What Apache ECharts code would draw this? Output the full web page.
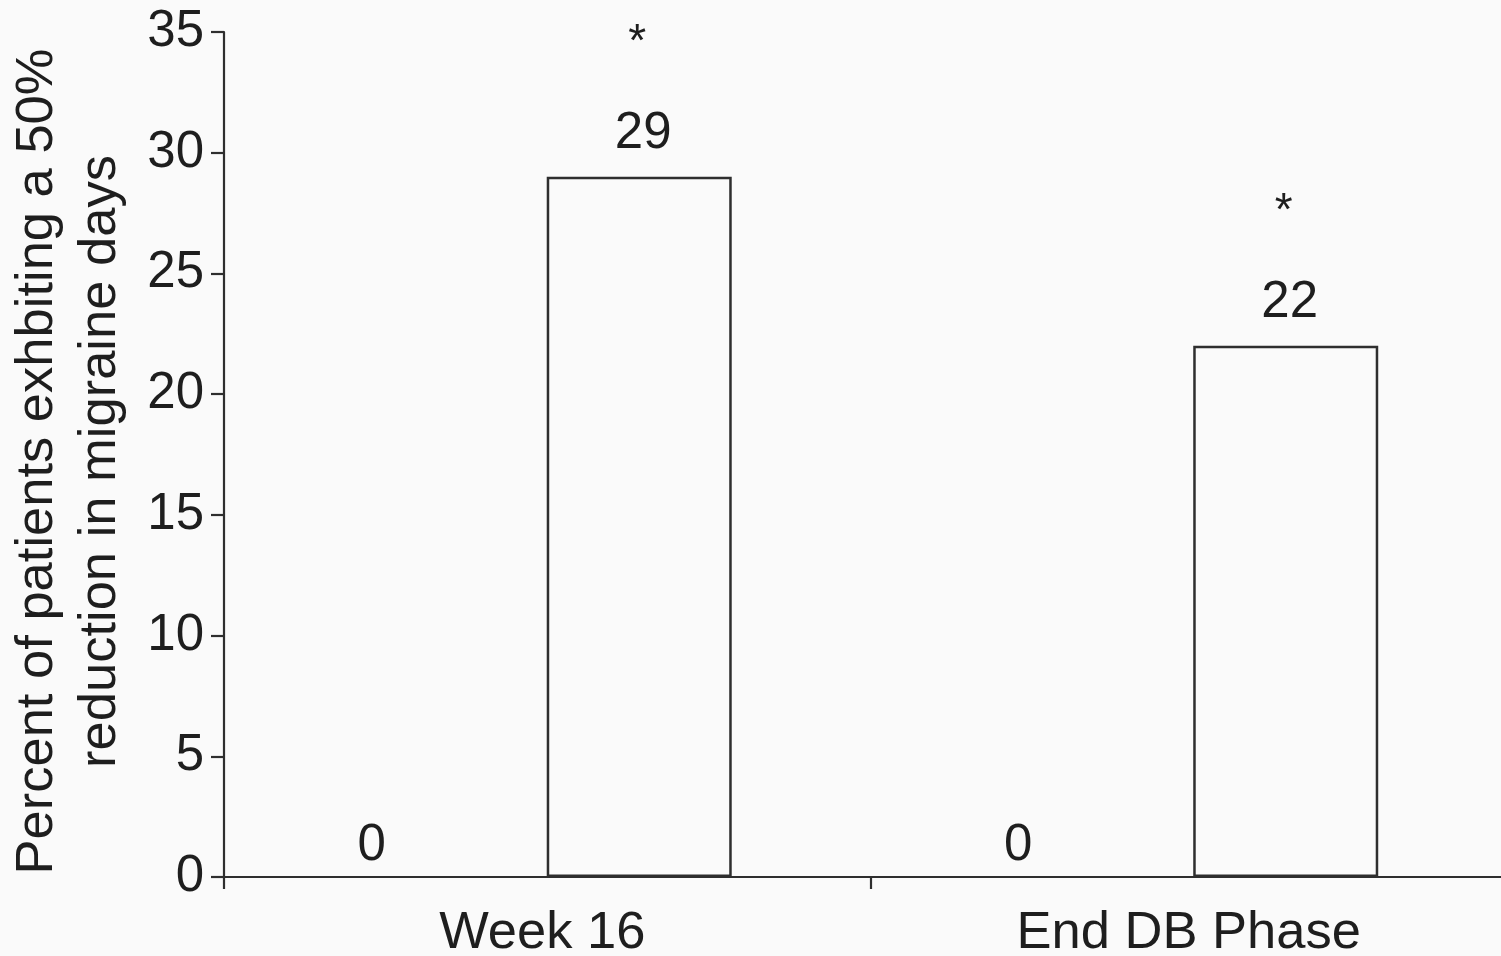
<!DOCTYPE html>
<html>
<head>
<meta charset="utf-8">
<script src="https://cdn.jsdelivr.net/npm/echarts@6/dist/echarts.min.js"></script>
<style>
html,body{margin:0;padding:0;background:#fafafa;}
#chart{width:1501px;height:956px;}
</style>
</head>
<body>
<div id="chart"></div>
<script>
var categories = ['Week 16', 'End DB Phase'];
var zeroValues = [0, 0];
var barValues = [29, 22];
var significance = ['*', '*'];
var yTicks = { min: 0, max: 35, interval: 5 };
var yTitle = 'Percent of patients exhbiting a 50%\nreduction in migraine days';

var textColor = '#1e1e1e';
var lineColor = '#2e2e2e';
var font = 'Liberation Sans, Arial, sans-serif';

var chart = echarts.init(document.getElementById('chart'));
chart.setOption({
  backgroundColor: '#fafafa',
  animation: false,
  grid: { left: 224, right: -16, top: 32, bottom: 79, containLabel: false, outerBoundsMode: 'none' },
  xAxis: {
    type: 'category',
    data: categories,
    axisLine: { lineStyle: { color: lineColor, width: 2.2 } },
    axisTick: { show: true, length: 12, inside: false, alignWithLabel: false, interval: 0, lineStyle: { color: lineColor, width: 2.2 } },
    axisLabel: { color: textColor, fontSize: 52.5, fontFamily: font, margin: 30, interval: 0, padding: [0, 10, 0, 0] }
  },
  yAxis: {
    type: 'value',
    min: yTicks.min,
    max: yTicks.max,
    interval: yTicks.interval,
    name: yTitle,
    nameLocation: 'middle',
    nameRotate: 90,
    nameGap: 92,
    nameTextStyle: { color: textColor, fontSize: 52.5, fontFamily: font, lineHeight: 63, padding: [0, 14, 0, 0] },
    axisLine: { show: true, lineStyle: { color: lineColor, width: 2.2 } },
    axisTick: { show: true, length: 13, inside: false, lineStyle: { color: lineColor, width: 2.2 } },
    axisLabel: { color: textColor, fontSize: 51, fontFamily: font, margin: 20 },
    splitLine: { show: false }
  },
  series: [
    {
      type: 'bar',
      data: zeroValues,
      barWidth: 18,
      barGap: '922%',
      itemStyle: { color: 'rgba(0,0,0,0)', borderWidth: 0 },
      label: { show: true, position: 'top', distance: 6, color: textColor, fontSize: 51, fontFamily: font }
    },
    {
      type: 'bar',
      data: barValues,
      barWidth: 185,
      barGap: '922%',
      itemStyle: { color: 'rgba(255,255,255,0)', borderColor: lineColor, borderWidth: 2.5 },
      label: {
        show: true,
        position: 'top',
        distance: 17,
        fontFamily: font,
        formatter: function (p) {
          return '{s|' + significance[p.dataIndex] + '}\n{v|' + p.value + '}';
        },
        rich: {
          s: { color: textColor, fontSize: 46, fontFamily: font, lineHeight: 132, padding: [0, 4, 0, 0] },
          v: { color: textColor, fontSize: 51, fontFamily: font, lineHeight: 51, padding: [0, 0, 0, 8] }
        }
      }
    }
  ]
});
</script>
</body>
</html>
